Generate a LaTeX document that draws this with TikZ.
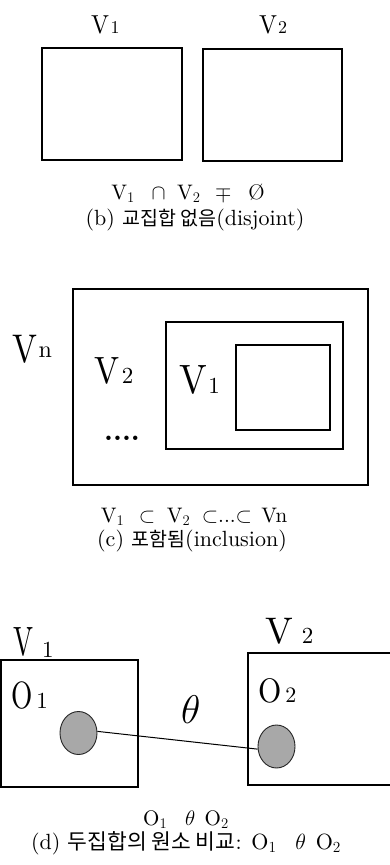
\RequirePackage{fix-cm}
\documentclass[tikz,border=0pt]{standalone}
\usepackage{fontspec}
\setmainfont{lmroman10-regular.otf}[BoldFont=lmroman10-bold.otf]
\newfontfamily\kr{Noto Sans CJK KR}
\usetikzlibrary{shapes.geometric}
\definecolor{dotgray}{RGB}{168,168,168}
\newcommand\biglab[6]{{\fontsize{#1}{#1}\selectfont\scalebox{#2}[1]{#3}}\kern#6{\fontsize{#4}{#4}\selectfont #5}}
\newcommand\krtext[2]{{\kr\fontsize{#1}{22}\selectfont #2}}
\tikzset{
  setbox/.style={draw=black, line width=1.3pt},
  lab/.style={inner sep=0pt, anchor=base west},
  captext/.style={inner sep=0pt, anchor=base, font=\fontsize{21}{24}\selectfont},
  elem/.style={ellipse, draw=black!85, line width=0.9pt, fill=dotgray, minimum width=37pt, minimum height=43pt, inner sep=0pt},
  link/.style={draw=black, line width=1pt}
}
\begin{document}
\begin{tikzpicture}[x=1pt,y=-1pt]
\useasboundingbox (0,0) rectangle (390,865);
\clip (0,0) rectangle (390,865);
\fill[white] (0,0) rectangle (390,865);

% ---------- (b) disjoint ----------
\node[lab] (bV1) at (91,33) {\biglab{26}{0.92}{V}{18}{1}{1.5pt}};
\node[lab] (bV2) at (259,33) {\biglab{26}{0.92}{V}{18}{2}{1pt}};
\draw[setbox] (42,48) rectangle (182,160);
\draw[setbox] (203,49) rectangle (342,161);
\node[captext] (bcap1) at (188,199) {V$_1$\hspace{0.8em}$\cap$\hspace{0.55em}V$_2$\hspace{0.7em}$\mp$\hspace{0.8em}Ø};
\node[captext, font=\fontsize{22}{24}\selectfont] (bcap2) at (195,225) {(b) \krtext{19.5}{교집합 없음}(disjoint)};

% ---------- (c) inclusion ----------
\draw[setbox] (73,289) rectangle (368,485);
\draw[setbox] (166,322) rectangle (343,449);
\draw[setbox] (236,345) rectangle (330,430);
\node[lab] (cVn) at (12,362) {\biglab{40}{0.83}{V}{24}{\raisebox{5pt}{n}}{1.5pt}};
\node[lab] (cV2) at (94,383) {\biglab{38}{0.88}{V}{23}{2}{2.5pt}};
\node[lab] (cV1) at (179,393) {\biglab{41}{0.9}{V}{23}{1}{1.5pt}};
\node[lab, font=\fontsize{28}{28}\selectfont\bfseries] (cdots) at (104,440) {....};
\node[captext] (ccap1) at (194,522) {V$_1$\hspace{0.7em}$\subset$\hspace{0.55em}V$_2$\hspace{0.55em}$\subset$...$\subset$\hspace{0.45em}Vn};
\node[captext, font=\fontsize{22}{24}\selectfont] (ccap2) at (192,546) {(c) \krtext{19.5}{포함됨}(inclusion)};

% ---------- (d) element comparison ----------
\draw[setbox] (1,660) rectangle (138,787);
\draw[setbox] (248,653) rectangle (400,785);
\node[lab] (dV1) at (13,655) {\biglab{41}{0.65}{V}{23}{\raisebox{-2pt}{1}}{9pt}};
\node[lab] (dV2) at (265,643) {\biglab{37}{1.0}{V}{23}{2}{9pt}};
\node[lab] (dO1) at (11,708) {\biglab{38}{0.72}{O}{23}{1}{4pt}};
\node[lab] (dO2) at (258,702) {\biglab{34}{0.88}{O}{22}{2}{4pt}};
\node[lab, font=\fontsize{40}{40}\selectfont] (theta) at (181,723) {$\theta$};
\node[elem] (c1) at (78.5,733) {};
\node[elem] (c2) at (276.5,746.5) {};
\draw[link] (c1.5) -- (c2.188);
\node[captext] (dcap1) at (186,825) {O$_1$\hspace{0.85em}$\theta$\hspace{0.45em}O$_2$};
\node[captext, font=\fontsize{22}{24}\selectfont] (dcap2) at (186,849) {(d) \krtext{21.5}{두집합의 원소 비교}: O$_1$\hspace{0.85em}$\theta$\hspace{0.45em}O$_2$};
\end{tikzpicture}
\end{document}
